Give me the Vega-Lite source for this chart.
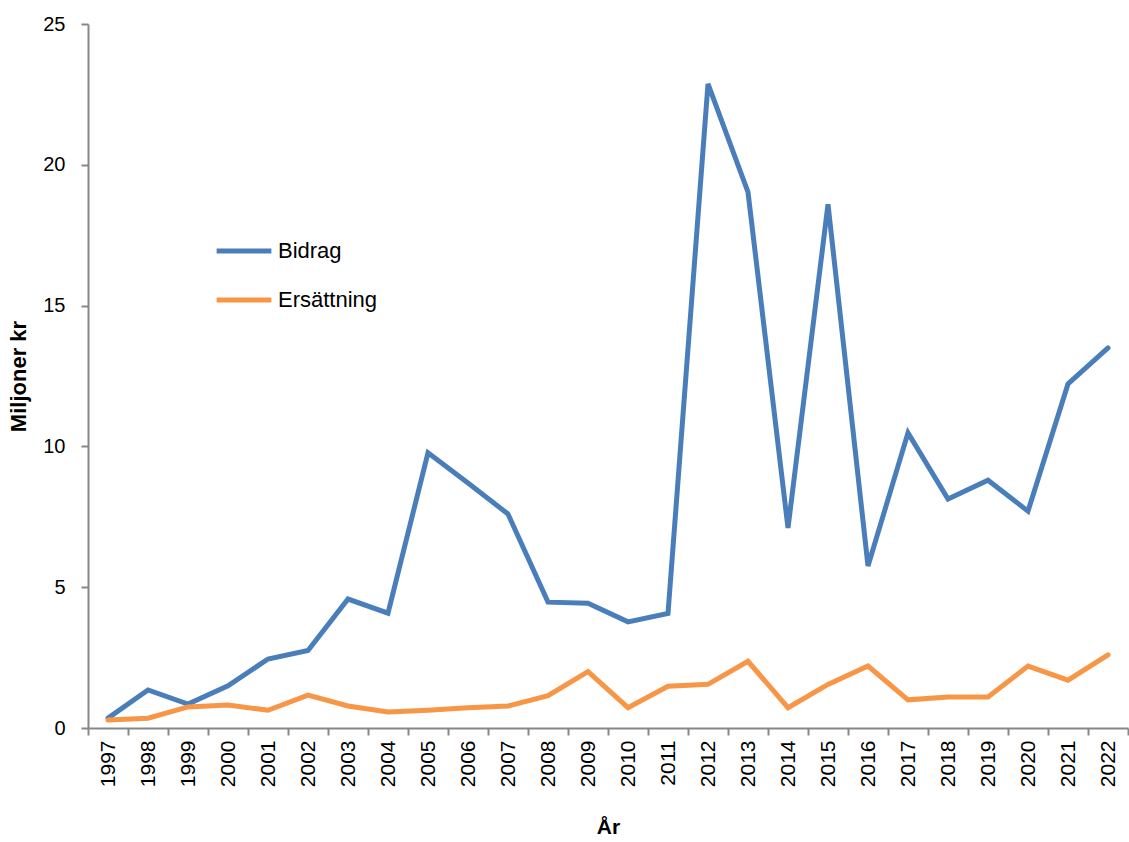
{
  "$schema": "https://vega.github.io/schema/vega-lite/v6.json",
  "autosize": {"type": "none"},
  "padding": {"left": 88, "top": 24, "right": 1, "bottom": 114},
  "width": 1040,
  "height": 704,
  "background": "white",
  "data": {
    "values": [
      {"ar": "1997", "serie": "Bidrag", "v": 0.35},
      {"ar": "1998", "serie": "Bidrag", "v": 1.35},
      {"ar": "1999", "serie": "Bidrag", "v": 0.85},
      {"ar": "2000", "serie": "Bidrag", "v": 1.5},
      {"ar": "2001", "serie": "Bidrag", "v": 2.45},
      {"ar": "2002", "serie": "Bidrag", "v": 2.75},
      {"ar": "2003", "serie": "Bidrag", "v": 4.58},
      {"ar": "2004", "serie": "Bidrag", "v": 4.08},
      {"ar": "2005", "serie": "Bidrag", "v": 9.77},
      {"ar": "2006", "serie": "Bidrag", "v": 8.7},
      {"ar": "2007", "serie": "Bidrag", "v": 7.6},
      {"ar": "2008", "serie": "Bidrag", "v": 4.47},
      {"ar": "2009", "serie": "Bidrag", "v": 4.43},
      {"ar": "2010", "serie": "Bidrag", "v": 3.77},
      {"ar": "2011", "serie": "Bidrag", "v": 4.07},
      {"ar": "2012", "serie": "Bidrag", "v": 22.87},
      {"ar": "2013", "serie": "Bidrag", "v": 19.03},
      {"ar": "2014", "serie": "Bidrag", "v": 7.1},
      {"ar": "2015", "serie": "Bidrag", "v": 18.6},
      {"ar": "2016", "serie": "Bidrag", "v": 5.75},
      {"ar": "2017", "serie": "Bidrag", "v": 10.48},
      {"ar": "2018", "serie": "Bidrag", "v": 8.13},
      {"ar": "2019", "serie": "Bidrag", "v": 8.8},
      {"ar": "2020", "serie": "Bidrag", "v": 7.7},
      {"ar": "2021", "serie": "Bidrag", "v": 12.22},
      {"ar": "2022", "serie": "Bidrag", "v": 13.5},
      {"ar": "1997", "serie": "Ersättning", "v": 0.28},
      {"ar": "1998", "serie": "Ersättning", "v": 0.35},
      {"ar": "1999", "serie": "Ersättning", "v": 0.75},
      {"ar": "2000", "serie": "Ersättning", "v": 0.82},
      {"ar": "2001", "serie": "Ersättning", "v": 0.63},
      {"ar": "2002", "serie": "Ersättning", "v": 1.17},
      {"ar": "2003", "serie": "Ersättning", "v": 0.78},
      {"ar": "2004", "serie": "Ersättning", "v": 0.57},
      {"ar": "2005", "serie": "Ersättning", "v": 0.63},
      {"ar": "2006", "serie": "Ersättning", "v": 0.72},
      {"ar": "2007", "serie": "Ersättning", "v": 0.78},
      {"ar": "2008", "serie": "Ersättning", "v": 1.15},
      {"ar": "2009", "serie": "Ersättning", "v": 2.0},
      {"ar": "2010", "serie": "Ersättning", "v": 0.72},
      {"ar": "2011", "serie": "Ersättning", "v": 1.48},
      {"ar": "2012", "serie": "Ersättning", "v": 1.55},
      {"ar": "2013", "serie": "Ersättning", "v": 2.37},
      {"ar": "2014", "serie": "Ersättning", "v": 0.72},
      {"ar": "2015", "serie": "Ersättning", "v": 1.55},
      {"ar": "2016", "serie": "Ersättning", "v": 2.2},
      {"ar": "2017", "serie": "Ersättning", "v": 1.0},
      {"ar": "2018", "serie": "Ersättning", "v": 1.1},
      {"ar": "2019", "serie": "Ersättning", "v": 1.1},
      {"ar": "2020", "serie": "Ersättning", "v": 2.2},
      {"ar": "2021", "serie": "Ersättning", "v": 1.7},
      {"ar": "2022", "serie": "Ersättning", "v": 2.6}
    ]
  },
  "mark": {"type": "line", "strokeWidth": 5, "strokeCap": "round", "strokeJoin": "miter"},
  "encoding": {
    "x": {
      "field": "ar", "type": "ordinal",
      "scale": {"type": "band", "paddingInner": 0, "paddingOuter": 0},
      "axis": {
        "title": "År", "titleFont": "Liberation Sans", "titleFontSize": 21, "titleFontWeight": "bold",
        "titleColor": "black", "titlePadding": 30,
        "labelAngle": -90, "labelFont": "Liberation Sans", "labelFontSize": 21, "labelColor": "black",
        "labelPadding": 5, "tickBand": "extent", "tickSize": 7, "tickColor": "#878787", "tickWidth": 2,
        "domainColor": "#878787", "domainWidth": 2, "grid": false
      }
    },
    "y": {
      "field": "v", "type": "quantitative",
      "scale": {"domain": [0, 25], "nice": false},
      "axis": {
        "title": "Miljoner kr", "titleFont": "Liberation Sans", "titleFontSize": 22, "titleFontWeight": "bold",
        "titleColor": "black", "titlePadding": 12,
        "values": [0, 5, 10, 15, 20, 25], "labelFont": "Liberation Sans", "labelFontSize": 20,
        "labelColor": "black", "labelPadding": 16, "tickSize": 7, "tickColor": "#878787", "tickWidth": 2,
        "domainColor": "#878787", "domainWidth": 2, "grid": false
      }
    },
    "color": {
      "field": "serie", "type": "nominal",
      "scale": {"domain": ["Bidrag", "Ersättning"], "range": ["#4a7ebb", "#f79646"]},
      "legend": {
        "title": null, "orient": "none", "legendX": 126, "legendY": 197,
        "symbolType": "stroke", "symbolSize": 3000, "symbolStrokeWidth": 5,
        "labelFont": "Liberation Sans", "labelFontSize": 22, "labelColor": "black",
        "labelOffset": 4, "rowPadding": 8
      }
    }
  },
  "config": {"view": {"stroke": null}}
}
